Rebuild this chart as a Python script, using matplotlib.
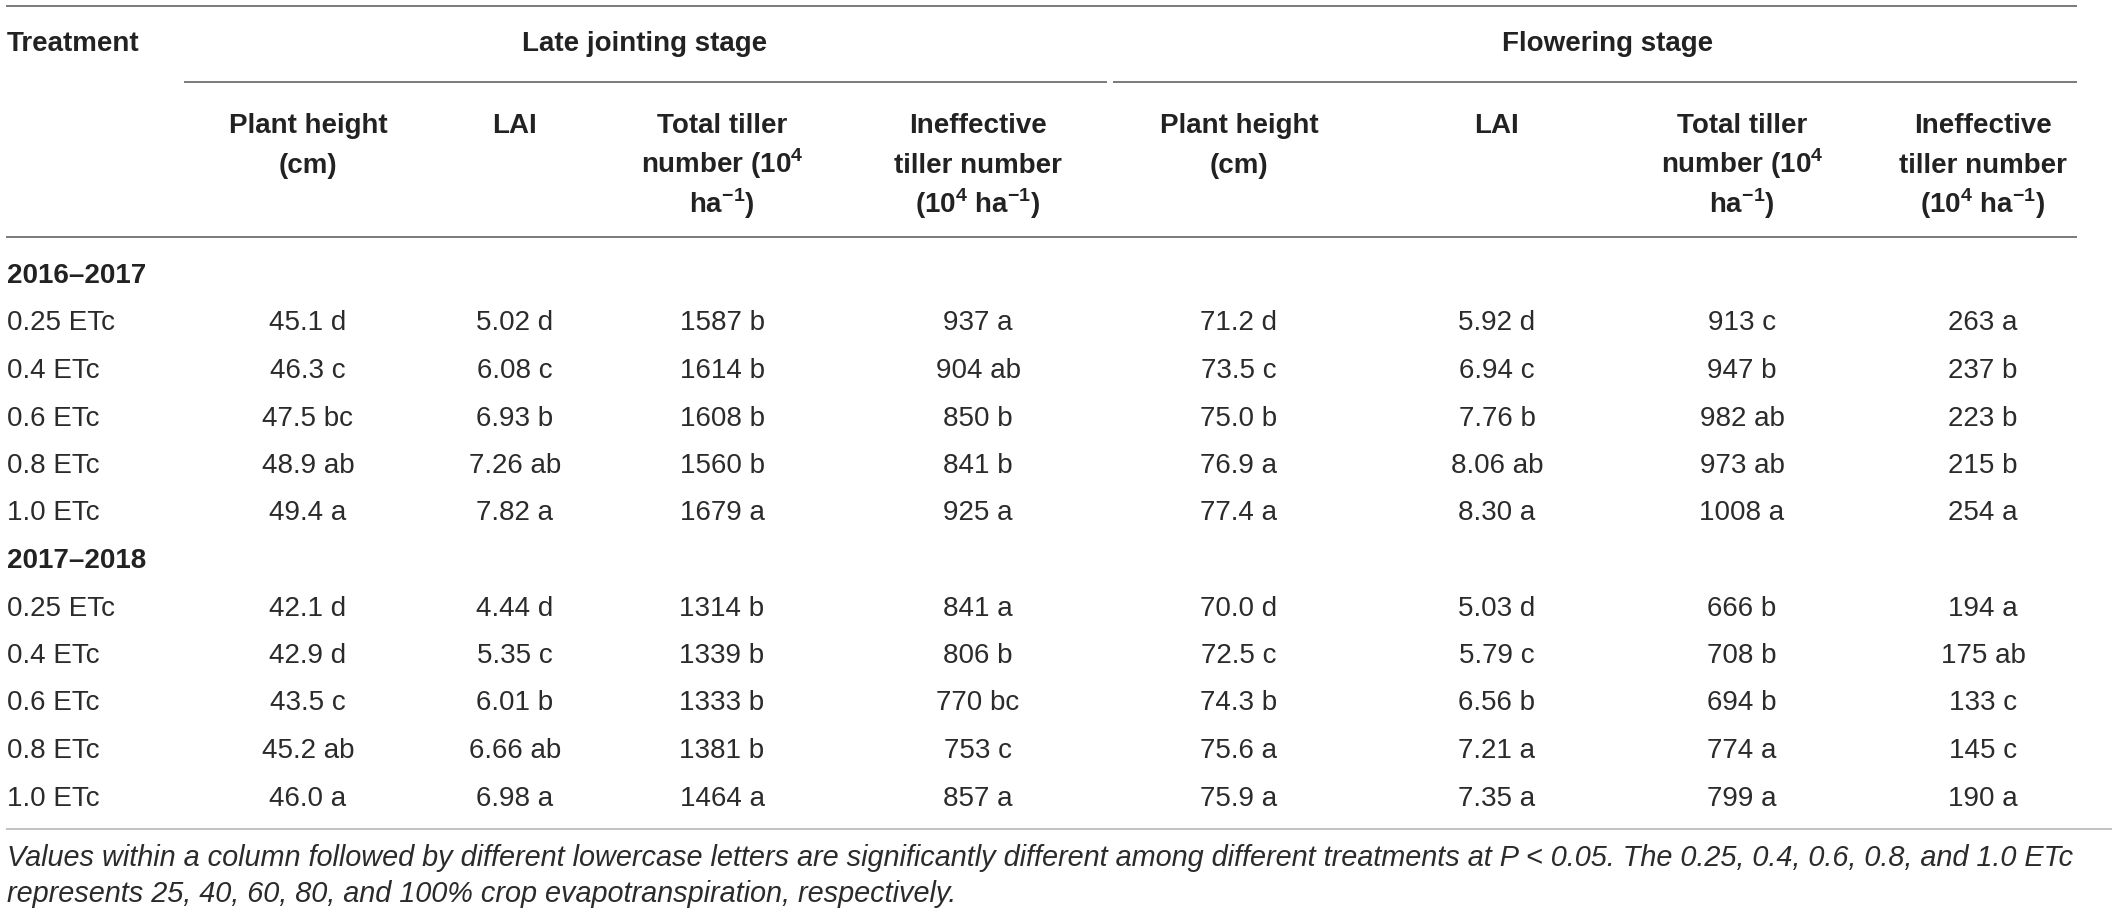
import matplotlib
matplotlib.use("Agg")
import matplotlib.pyplot as plt

plt.rcParams['font.family'] = ['Liberation Sans', 'DejaVu Sans']
plt.rcParams['mathtext.fontset'] = 'custom'
plt.rcParams['mathtext.rm'] = 'Liberation Sans'
plt.rcParams['mathtext.bf'] = 'Liberation Sans:bold'

# --- table data ---
seasons = ["2016–2017", "2017–2018"]
treatments = ["0.25 ETc", "0.4 ETc", "0.6 ETc", "0.8 ETc", "1.0 ETc"]
stages = ["Late jointing stage", "Flowering stage"]

lj_height = [45.1, 46.3, 47.5, 48.9, 49.4, 42.1, 42.9, 43.5, 45.2, 46.0]
lj_height_sig = ["d", "c", "bc", "ab", "a", "d", "d", "c", "ab", "a"]
lj_lai = [5.02, 6.08, 6.93, 7.26, 7.82, 4.44, 5.35, 6.01, 6.66, 6.98]
lj_lai_sig = ["d", "c", "b", "ab", "a", "d", "c", "b", "ab", "a"]
lj_total = [1587, 1614, 1608, 1560, 1679, 1314, 1339, 1333, 1381, 1464]
lj_total_sig = ["b", "b", "b", "b", "a", "b", "b", "b", "b", "a"]
lj_ineff = [937, 904, 850, 841, 925, 841, 806, 770, 753, 857]
lj_ineff_sig = ["a", "ab", "b", "b", "a", "a", "b", "bc", "c", "a"]

fl_height = [71.2, 73.5, 75.0, 76.9, 77.4, 70.0, 72.5, 74.3, 75.6, 75.9]
fl_height_sig = ["d", "c", "b", "a", "a", "d", "c", "b", "a", "a"]
fl_lai = [5.92, 6.94, 7.76, 8.06, 8.30, 5.03, 5.79, 6.56, 7.21, 7.35]
fl_lai_sig = ["d", "c", "b", "ab", "a", "d", "c", "b", "a", "a"]
fl_total = [913, 947, 982, 973, 1008, 666, 708, 694, 774, 799]
fl_total_sig = ["c", "b", "ab", "ab", "a", "b", "b", "b", "a", "a"]
fl_ineff = [263, 237, 223, 215, 254, 194, 175, 133, 145, 190]
fl_ineff_sig = ["a", "b", "b", "b", "a", "a", "ab", "c", "c", "a"]

col_headers = [
    ["Plant height", "(cm)"],
    ["LAI"],
    ["Total tiller", r"number (10$^{\mathbf{4}}$", r"ha$^{\mathbf{-1}}$)"],
    ["Ineffective", "tiller number", r"(10$^{\mathbf{4}}$ ha$^{\mathbf{-1}}$)"],
]

footnote = [
    "Values within a column followed by different lowercase letters are significantly "
    "different among different treatments at P < 0.05. The 0.25, 0.4, 0.6, 0.8, and 1.0 ETc",
    "represents 25, 40, 60, 80, and 100% crop evapotranspiration, respectively.",
]

columns = [
    (lj_height, lj_height_sig, "{:.1f}"),
    (lj_lai, lj_lai_sig, "{:.2f}"),
    (lj_total, lj_total_sig, "{:d}"),
    (lj_ineff, lj_ineff_sig, "{:d}"),
    (fl_height, fl_height_sig, "{:.1f}"),
    (fl_lai, fl_lai_sig, "{:.2f}"),
    (fl_total, fl_total_sig, "{:d}"),
    (fl_ineff, fl_ineff_sig, "{:d}"),
]

# layout in pixels
W, H = 2118, 915
col_x = [308, 515, 722, 978, 1239, 1497, 1742, 1983]
stage_x = [645, 1608]
left = 7
row0, row_step = 283, 47.5
fs = 20
txt = "#222222"
body = "#2b2b2b"
line_dark = "#707070"
line_light = "#bdbdbd"

fig = plt.figure(figsize=(W / 100, H / 100), dpi=100)
ax = fig.add_axes([0, 0, 1, 1])
ax.set_xlim(0, W)
ax.set_ylim(H, 0)
ax.axis("off")

# rules
ax.hlines(6, 6, 2077, color=line_dark, lw=1.3)
ax.hlines(82, 184, 1107, color=line_dark, lw=1.3)
ax.hlines(82, 1113, 2077, color=line_dark, lw=1.3)
ax.hlines(237, 6, 2077, color=line_dark, lw=1.3)
ax.hlines(829, 6, 2112, color=line_light, lw=1.3)

# header
ax.text(left, 51, "Treatment", fontsize=fs, fontweight="bold", color=txt, va="baseline")
for x, s in zip(stage_x, stages):
    ax.text(x, 51, s, fontsize=fs, fontweight="bold", color=txt, ha="center", va="baseline")
for k, lines in enumerate(col_headers):
    for j, s in enumerate(lines):
        ax.text(col_x[k], 133 + 40 * j, s, fontsize=fs, fontweight="bold",
                color=txt, ha="center", va="baseline")
        ax.text(col_x[k + 4], 133 + 40 * j, s, fontsize=fs, fontweight="bold",
                color=txt, ha="center", va="baseline")

# body
r = 0
for si, season in enumerate(seasons):
    ax.text(left, row0 + r * row_step, season, fontsize=fs, fontweight="bold",
            color=txt, va="baseline")
    r += 1
    for ti, tr in enumerate(treatments):
        y = row0 + r * row_step
        ax.text(left, y, tr, fontsize=fs, color=body, va="baseline")
        i = si * len(treatments) + ti
        for (vals, sig, fmt), x in zip(columns, col_x):
            ax.text(x, y, fmt.format(vals[i]) + " " + sig[i], fontsize=fs,
                    color=body, ha="center", va="baseline")
        r += 1

# footnote
for j, s in enumerate(footnote):
    ax.text(left, 866 + 36 * j, s, fontsize=20.8, style="italic", color=body, va="baseline")

fig.savefig("out.png", dpi=100)
